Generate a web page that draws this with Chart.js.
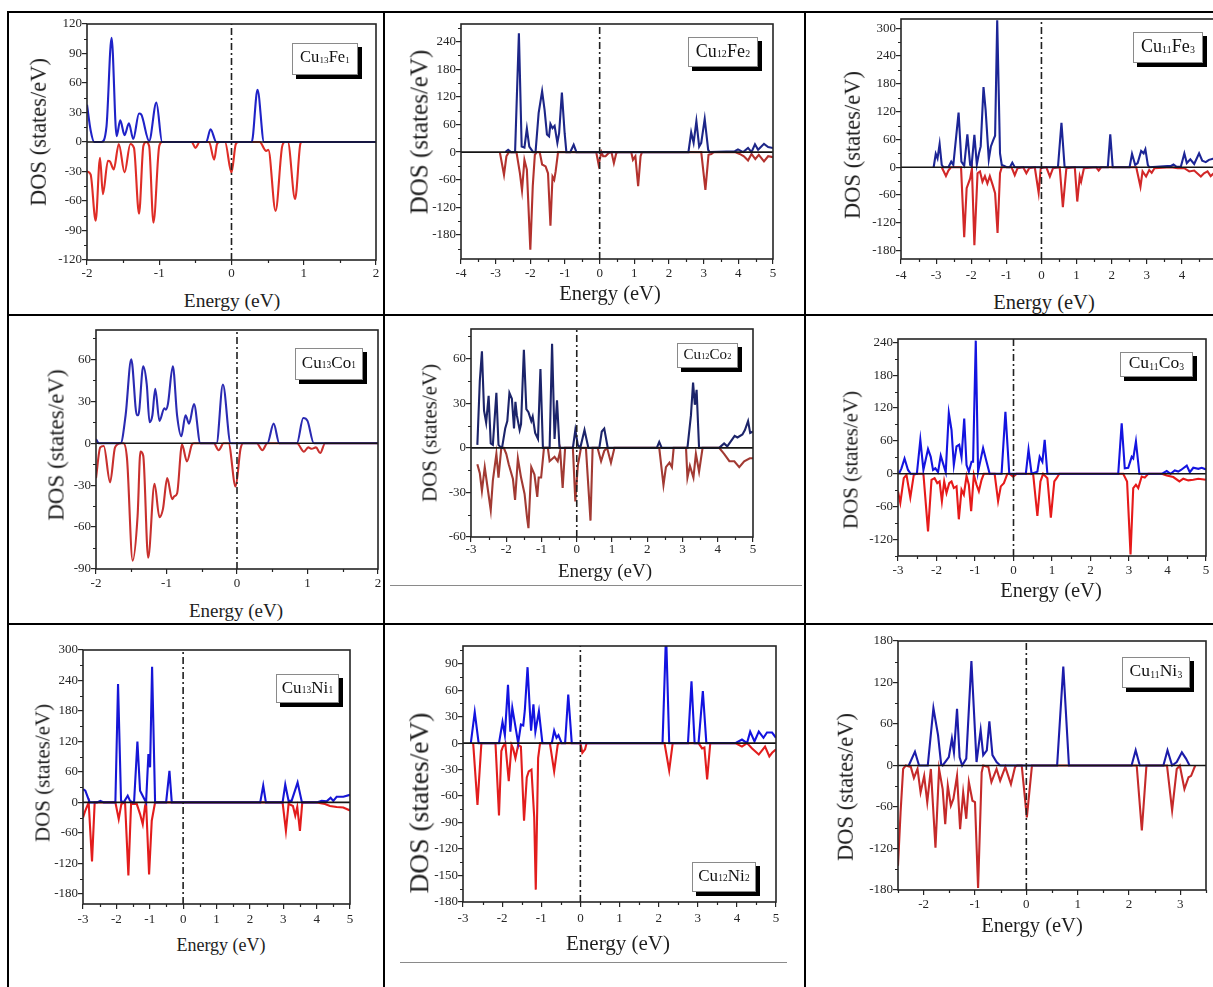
<!DOCTYPE html>
<html><head><meta charset="utf-8">
<script src="https://cdn.jsdelivr.net/npm/chart.js@4.4.1/dist/chart.umd.min.js"></script>
<style>
html,body{margin:0;padding:0;background:#fff;}
body{width:1213px;height:987px;overflow:hidden;position:relative;font-family:"Liberation Serif","Times New Roman",serif;color:#1a1a1a;}
canvas{position:absolute;}
.ln{position:absolute;background:#000;}
.gl{position:absolute;background:#8a8a8a;height:1px;}
.tt{position:absolute;white-space:nowrap;line-height:1;color:#1e1e1e;}
.leg{position:absolute;background:#fff;border:1px solid #8a8a8a;box-shadow:4px 4px 0 #000;display:flex;align-items:center;justify-content:center;color:#111;line-height:1;box-sizing:border-box;padding-bottom:3px;}
.leg sub{font-size:0.55em;vertical-align:baseline;position:relative;top:0.38em;margin:0 0.02em;}
</style>
</head><body>
<script>
// ---------- tick labels ----------
const ticksX_m2_2 = [-2,-1,0,1,2];
const ticksX_m4_5 = [-4,-3,-2,-1,0,1,2,3,4,5];
const ticksX_m3_5 = [-3,-2,-1,0,1,2,3,4,5];
const ticksX_m2_3 = [-2,-1,0,1,2,3];
const ticksY_fe1 = [-120,-90,-60,-30,0,30,60,90,120];
const ticksY_fe2 = [-180,-120,-60,0,60,120,180,240];
const ticksY_fe3 = [-180,-120,-60,0,60,120,180,240,300];
const ticksY_co1 = [-90,-60,-30,0,30,60];
const ticksY_co2 = [-60,-30,0,30,60];
const ticksY_co3 = [-120,-60,0,60,120,180,240];
const ticksY_ni1 = [-180,-120,-60,0,60,120,180,240,300];
const ticksY_ni2 = [-180,-150,-120,-90,-60,-30,0,30,60,90];
const ticksY_ni3 = [-180,-120,-60,0,60,120,180];

// ---------- series: [energy (eV), DOS (states/eV)] ----------
const fe1Up = [[-2,38],[-1.95,12],[-1.9,0],[-1.8,0],[-1.73,16],[-1.66,106],[-1.59,6],[-1.54,22],[-1.48,7],[-1.42,19],[-1.36,3],[-1.28,29],[-1.25,28],[-1.14,1],[-1.04,40],[-0.96,0],[-0.35,0],[-0.29,13],[-0.21,0],[0.28,0],[0.36,53],[0.45,0],[2,0]];
const fe1Dn = [[-2,-30],[-1.95,-33],[-1.88,-80],[-1.82,-16],[-1.78,-53],[-1.71,-19],[-1.68,-20],[-1.63,-28],[-1.56,-2],[-1.48,-31],[-1.4,-2],[-1.35,-6],[-1.28,-73],[-1.22,-4],[-1.18,0],[-1.14,-4],[-1.08,-82],[-1.0,-4],[-0.96,0],[-0.55,0],[-0.5,-6],[-0.44,0],[-0.31,0],[-0.24,-18],[-0.2,-2],[-0.16,0],[-0.09,0],[0,-31],[0.06,-2],[0.1,0],[0.39,0],[0.48,-9],[0.51,-8],[0.61,-70],[0.7,-5],[0.74,0],[0.78,0],[0.88,-58],[0.95,-3],[0.97,0],[2,0]];

const fe2Up = [[-2.72,0],[-2.64,5],[-2.56,0],[-2.44,0],[-2.33,258],[-2.25,12],[-2.17,10],[-2.1,51],[-2.03,12],[-1.92,0],[-1.85,0],[-1.76,85],[-1.66,132],[-1.59,92],[-1.52,38],[-1.46,34],[-1.42,61],[-1.36,52],[-1.3,57],[-1.22,20],[-1.17,41],[-1.09,129],[-1.01,41],[-0.96,0],[-0.85,0],[-0.75,16],[-0.67,0],[2.56,0],[2.64,43],[2.71,20],[2.79,67],[2.87,12],[2.93,20],[3.03,72],[3.13,5],[3.17,0],[3.9,2],[3.99,6],[4.14,0],[4.28,9],[4.38,0],[4.48,17],[4.57,5],[4.74,18],[4.86,11],[5,9]];
const fe2Dn = [[-2.88,0],[-2.76,-49],[-2.69,-9],[-2.62,0],[-2.4,0],[-2.3,-46],[-2.24,-83],[-2.17,-17],[-2.1,-38],[-2.0,-212],[-1.93,-74],[-1.87,-6],[-1.82,0],[-1.73,0],[-1.66,-27],[-1.56,-31],[-1.49,-46],[-1.42,-160],[-1.36,-53],[-1.31,-60],[-1.27,-42],[-1.2,0],[-0.1,0],[-0.03,-27],[0.05,0],[0.1,-9],[0.17,-9],[0.26,-2],[0.34,0],[0.41,-24],[0.48,-2],[0.53,0],[0.91,0],[0.96,-17],[1.03,-9],[1.11,-74],[1.18,-9],[1.22,0],[2.93,0],[3.05,-82],[3.14,-6],[3.22,-4],[3.29,0],[3.9,0],[4.04,-4],[4.16,-9],[4.28,-18],[4.38,-4],[4.49,-15],[4.59,-6],[4.74,-20],[4.86,-9],[5,-11]];

const fe3Up = [[-3.07,0],[-3.01,29],[-2.96,19],[-2.9,50],[-2.84,5],[-2.79,0],[-2.65,0],[-2.57,12],[-2.51,5],[-2.36,118],[-2.28,12],[-2.2,3],[-2.11,71],[-2.03,5],[-1.99,3],[-1.91,70],[-1.84,6],[-1.78,30],[-1.73,45],[-1.65,173],[-1.59,124],[-1.5,17],[-1.44,45],[-1.37,59],[-1.32,68],[-1.26,317],[-1.18,30],[-1.13,5],[-1.06,3],[-0.99,0],[-0.9,0],[-0.83,10],[-0.76,0],[0.47,0],[0.57,96],[0.66,0],[1.89,0],[1.96,71],[2.03,0],[2.51,0],[2.58,29],[2.67,5],[2.74,9],[2.84,35],[2.91,30],[2.96,39],[3.03,5],[3.07,0],[3.69,3],[3.76,6],[3.85,1],[3.97,1],[4.07,30],[4.14,9],[4.24,17],[4.35,7],[4.49,30],[4.58,14],[4.68,11],[4.77,16],[4.91,19],[5,20]];
const fe3Dn = [[-2.84,0],[-2.72,-19],[-2.65,-7],[-2.58,0],[-2.29,0],[-2.2,-151],[-2.13,-45],[-2.03,-24],[-1.98,-3],[-1.91,-168],[-1.82,-13],[-1.75,-9],[-1.68,-31],[-1.61,-19],[-1.54,-35],[-1.47,-19],[-1.39,-38],[-1.32,-56],[-1.25,-142],[-1.18,-13],[-1.13,0],[-0.85,0],[-0.76,-17],[-0.68,-2],[-0.52,0],[-0.43,-13],[-0.35,-2],[-0.19,0],[-0.08,-55],[-0.02,-2],[0.14,0],[0.24,-20],[0.33,-2],[0.52,0],[0.61,-86],[0.71,-2],[0.95,0],[1.02,-74],[1.09,-20],[1.13,-31],[1.21,-2],[1.56,0],[1.63,-7],[1.7,0],[2.7,0],[2.82,-42],[2.88,-9],[2.98,-20],[3.07,-6],[3.14,-12],[3.22,-2],[3.69,0],[3.88,-2],[4.07,-2],[4.21,-9],[4.35,-7],[4.54,-20],[4.63,-13],[4.73,-9],[4.82,-19],[4.91,-13],[5,-15]];

const co1Up = [[-2,3],[-1.96,0],[-1.65,0],[-1.58,20],[-1.5,60],[-1.42,20],[-1.4,20],[-1.33,55],[-1.28,42],[-1.24,15],[-1.2,20],[-1.16,39],[-1.1,16],[-1.03,25],[-1.01,24],[-0.98,28],[-0.91,55],[-0.85,20],[-0.79,5],[-0.73,20],[-0.68,14],[-0.61,28],[-0.52,0],[-0.29,0],[-0.2,42],[-0.09,0],[0.43,0],[0.52,14],[0.6,0],[0.85,0],[0.94,18],[1.0,16],[1.09,0],[2,0]];
const co1Dn = [[-2,-25],[-1.94,-3],[-1.89,-2],[-1.8,-28],[-1.73,-3],[-1.65,0],[-1.61,0],[-1.56,-11],[-1.48,-84],[-1.41,-52],[-1.37,-6],[-1.33,-9],[-1.26,-82],[-1.17,-29],[-1.1,-53],[-1.05,-47],[-0.99,-25],[-0.92,-40],[-0.89,-38],[-0.85,-36],[-0.78,-1],[-0.71,-13],[-0.64,-1],[-0.61,0],[-0.33,0],[-0.26,-5],[-0.19,0],[-0.12,0],[-0.02,-31],[0.05,-4],[0.09,0],[0.28,0],[0.36,-5],[0.43,0],[0.85,0],[0.95,-6],[1.01,-3],[1.06,-4],[1.12,-3],[1.18,-7],[1.25,0],[2,0]];

const co2Up = [[-2.82,2],[-2.75,45],[-2.69,65],[-2.63,25],[-2.57,17],[-2.5,35],[-2.44,3],[-2.38,2],[-2.28,37],[-2.22,2],[-2.14,0],[-2.12,0],[-2.03,13],[-1.97,18],[-1.91,37],[-1.84,33],[-1.78,13],[-1.74,31],[-1.7,22],[-1.62,12],[-1.58,16],[-1.5,66],[-1.43,26],[-1.37,24],[-1.29,18],[-1.25,21],[-1.18,10],[-1.1,6],[-1.03,53],[-0.96,0],[-0.77,0],[-0.7,70],[-0.63,6],[-0.56,32],[-0.49,0],[-0.11,0],[-0.04,12],[0.03,2],[0.1,0],[0.22,12],[0.33,0],[0.64,0],[0.71,11],[0.78,13],[0.88,0],[2.27,0],[2.34,4],[2.41,0],[3.14,0],[3.24,22],[3.3,44],[3.35,29],[3.4,39],[3.47,0],[4.04,0],[4.18,3],[4.27,1],[4.42,6],[4.48,8],[4.56,7],[4.7,9],[4.77,12],[4.86,18],[4.92,10],[5,11]];
const co2Dn = [[-2.82,-11],[-2.75,-17],[-2.69,-29],[-2.61,-13],[-2.54,-25],[-2.44,-42],[-2.38,-22],[-2.28,-4],[-2.22,-20],[-2.14,0],[-2.07,0],[-2.0,-4],[-1.93,-11],[-1.81,-21],[-1.75,-35],[-1.67,-7],[-1.58,-20],[-1.48,-31],[-1.41,-47],[-1.37,-54],[-1.29,-13],[-1.2,-18],[-1.12,-33],[-1.08,-20],[-1.01,-20],[-0.93,0],[-0.82,0],[-0.77,-9],[-0.63,-6],[-0.54,-9],[-0.47,-2],[-0.4,-27],[-0.33,0],[-0.11,0],[-0.04,-36],[0.03,-12],[0.12,0],[0.26,0],[0.39,-49],[0.45,0],[0.59,0],[0.69,-9],[0.78,-2],[0.86,0],[0.97,-10],[1.07,0],[2.34,0],[2.46,-25],[2.53,-13],[2.63,-10],[2.7,-13],[2.75,0],[3.1,0],[3.14,-20],[3.21,-12],[3.31,-20],[3.38,-4],[3.47,-16],[3.57,0],[4.04,0],[4.18,-4],[4.33,-9],[4.47,-9],[4.61,-13],[4.75,-9],[4.91,-7],[5,-7]];

const co3Up = [[-2.97,1],[-2.91,10],[-2.83,28],[-2.74,7],[-2.67,0],[-2.51,0],[-2.42,62],[-2.34,7],[-2.22,45],[-2.15,31],[-2.09,7],[-2.03,10],[-1.96,3],[-1.89,33],[-1.83,19],[-1.76,3],[-1.68,111],[-1.61,80],[-1.55,16],[-1.48,50],[-1.41,53],[-1.35,30],[-1.28,101],[-1.22,16],[-1.16,4],[-1.09,22],[-1.05,22],[-0.98,243],[-0.92,4],[-0.79,47],[-0.7,22],[-0.62,0],[-0.31,0],[-0.21,113],[-0.11,0],[0.32,0],[0.39,44],[0.47,0],[0.62,4],[0.68,31],[0.75,22],[0.81,62],[0.88,0],[2.72,0],[2.81,92],[2.89,10],[2.98,11],[3.07,31],[3.11,28],[3.18,59],[3.27,0],[3.85,0],[3.98,5],[4.08,0],[4.19,6],[4.28,4],[4.35,7],[4.5,15],[4.58,3],[4.67,11],[4.8,9],[4.89,11],[5,8]];
const co3Dn = [[-3,-32],[-2.94,-53],[-2.85,-8],[-2.78,-2],[-2.68,-43],[-2.59,-2],[-2.52,0],[-2.34,0],[-2.22,-105],[-2.13,-11],[-2.05,-8],[-1.98,-17],[-1.92,-14],[-1.86,-50],[-1.8,-14],[-1.74,-35],[-1.67,-17],[-1.61,-14],[-1.55,-26],[-1.48,-23],[-1.42,-83],[-1.35,-29],[-1.29,-38],[-1.22,-4],[-1.16,-20],[-1.1,-68],[-1.03,-2],[-0.96,-20],[-0.9,-32],[-0.83,-11],[-0.77,0],[-0.49,0],[-0.4,-50],[-0.33,-23],[-0.25,-17],[-0.16,0],[-0.1,0],[-0.01,-5],[0.08,0],[0.51,0],[0.62,-77],[0.7,-14],[0.77,0],[0.88,-8],[0.97,-80],[1.06,-14],[1.12,-8],[1.19,0],[2.85,0],[2.95,-14],[3.04,-147],[3.11,-26],[3.18,-20],[3.24,-26],[3.33,-5],[3.41,-7],[3.5,0],[3.85,0],[3.98,-3],[4.15,-6],[4.31,-14],[4.41,-9],[4.54,-12],[4.67,-11],[4.8,-9],[5,-11]];

const ni1Up = [[-3,26],[-2.93,23],[-2.8,0],[-2.58,0],[-2.48,3],[-2.38,0],[-2.03,0],[-1.95,233],[-1.86,3],[-1.78,0],[-1.66,13],[-1.59,3],[-1.51,0],[-1.47,0],[-1.37,120],[-1.29,23],[-1.19,10],[-1.11,0],[-1.04,95],[-0.99,69],[-0.93,267],[-0.84,0],[-0.51,0],[-0.41,62],[-0.34,0],[2.31,0],[2.4,33],[2.48,0],[2.98,0],[3.06,35],[3.16,3],[3.25,3],[3.43,39],[3.56,0],[4.0,0],[4.15,3],[4.3,2],[4.42,9],[4.5,3],[4.6,11],[4.8,11],[5,15]];
const ni1Dn = [[-3,-30],[-2.93,-16],[-2.83,0],[-2.73,-116],[-2.65,0],[-2.03,0],[-1.93,-33],[-1.85,-3],[-1.74,0],[-1.64,-144],[-1.56,-3],[-1.39,-3],[-1.29,-23],[-1.21,-43],[-1.14,-7],[-1.11,0],[-1.02,-142],[-0.94,-36],[-0.84,0],[2.98,0],[3.08,-56],[3.16,-3],[3.29,-7],[3.36,-26],[3.42,-9],[3.5,-56],[3.57,0],[4.0,0],[4.25,-3],[4.4,-7],[4.6,-9],[4.8,-10],[5,-16]];

const ni2Up = [[-2.8,0],[-2.7,35],[-2.6,0],[-2.08,0],[-1.99,24],[-1.93,9],[-1.85,66],[-1.79,13],[-1.74,40],[-1.68,24],[-1.59,0],[-1.52,21],[-1.46,20],[-1.42,37],[-1.35,86],[-1.29,36],[-1.26,14],[-1.2,44],[-1.15,13],[-1.06,36],[-0.97,0],[-0.73,0],[-0.67,14],[-0.61,6],[-0.56,9],[-0.48,0],[-0.39,0],[-0.31,55],[-0.22,0],[2.1,0],[2.19,125],[2.27,0],[2.75,0],[2.84,70],[2.92,0],[3.02,0],[3.13,59],[3.22,0],[3.96,0],[4.13,4],[4.26,0],[4.34,13],[4.45,2],[4.56,13],[4.68,6],[4.77,12],[4.9,12],[5,6]];
const ni2Dn = [[-2.74,0],[-2.63,-70],[-2.53,0],[-2.17,0],[-2.08,-82],[-2.02,-9],[-1.98,-4],[-1.92,0],[-1.83,-43],[-1.76,-2],[-1.72,-6],[-1.66,-17],[-1.59,-2],[-1.52,-4],[-1.44,-88],[-1.37,-39],[-1.32,-32],[-1.25,-30],[-1.18,-84],[-1.14,-166],[-1.08,-17],[-1.03,0],[-0.78,0],[-0.67,-32],[-0.58,-2],[-0.55,0],[0,0],[0.05,-11],[0.12,-7],[0.16,0],[2.15,0],[2.27,-31],[2.36,0],[3.02,0],[3.11,-6],[3.17,-5],[3.24,-41],[3.32,0],[3.96,0],[4.13,-4],[4.26,0],[4.39,-6],[4.56,-13],[4.72,-4],[4.83,-15],[4.9,-11],[5,-7]];

const ni3Up = [[-2.29,0],[-2.17,20],[-2.09,0],[-1.92,0],[-1.81,83],[-1.72,44],[-1.66,2],[-1.63,0],[-1.56,7],[-1.51,12],[-1.45,39],[-1.41,19],[-1.35,82],[-1.3,12],[-1.25,0],[-1.17,10],[-1.07,151],[-0.97,5],[-0.89,51],[-0.84,15],[-0.77,22],[-0.72,64],[-0.66,15],[-0.58,5],[-0.51,0],[0.6,0],[0.72,143],[0.83,0],[2.05,0],[2.13,22],[2.21,0],[2.67,0],[2.75,22],[2.84,0],[2.93,5],[3.03,19],[3.11,10],[3.18,0]];
const ni3Dn = [[-2.5,-145],[-2.45,-68],[-2.4,-5],[-2.35,0],[-2.25,-2],[-2.19,-18],[-2.12,-5],[-2.06,-39],[-1.99,-15],[-1.93,-53],[-1.86,-5],[-1.77,-119],[-1.7,-5],[-1.63,-34],[-1.58,-85],[-1.53,-29],[-1.47,-58],[-1.42,-48],[-1.35,-15],[-1.29,-92],[-1.23,-39],[-1.17,-77],[-1.12,-24],[-1.05,-51],[-1.0,-53],[-0.94,-177],[-0.87,-10],[-0.84,0],[-0.74,-2],[-0.68,-24],[-0.58,-5],[-0.51,-22],[-0.41,-2],[-0.3,-27],[-0.22,-2],[-0.18,0],[-0.09,0],[0.01,-75],[0.11,0],[2.15,0],[2.25,-94],[2.34,0],[2.74,0],[2.84,-65],[2.93,-5],[2.99,0],[3.08,-34],[3.16,-17],[3.21,-15],[3.29,0]];

// ---------- panel layout (positions / styles) ----------
const panels = [
 {up:fe1Up, dn:fe1Dn, label:'Cu<sub>13</sub>Fe<sub>1</sub>', frame:[87,24,376,260], xr:[-2,2], yr:[-120,120], xt:ticksX_m2_2, yt:ticksY_fe1, xm:0.5, ym:15, cu:'#1f22c8', cd:'#df2d26', smooth:true, xTitle:[232,301,19.5], yTitle:[39,132,22.5], leg:[292,43,66,32,16.5], xpad:1},
 {up:fe2Up, dn:fe2Dn, label:'Cu<sub>12</sub>Fe<sub>2</sub>', frame:[461,24,773,259], xr:[-4,5], yr:[-232,278], xt:ticksX_m4_5, yt:ticksY_fe2, xm:0.5, ym:30, cu:'#1d2688', cd:'#b3322e', smooth:false, xTitle:[610,293,20.5], yTitle:[419,132,25], leg:[688,37,70,30,18], xpad:2},
 {up:fe3Up, dn:fe3Dn, label:'Cu<sub>11</sub>Fe<sub>3</sub>', frame:[901,19,1217,259], xr:[-4,5], yr:[-198,320], xt:ticksX_m4_5, yt:ticksY_fe3, xm:0.5, ym:30, cu:'#1c2596', cd:'#d22828', smooth:false, xTitle:[1044,302,20.5], yTitle:[853,145,22.5], leg:[1133,32,70,31,18], xpad:4},
 {up:co1Up, dn:co1Dn, label:'Cu<sub>13</sub>Co<sub>1</sub>', frame:[96,330,378,569], xr:[-2,2], yr:[-90,81], xt:ticksX_m2_2, yt:ticksY_co1, xm:0.5, ym:15, cu:'#2a2ab2', cd:'#c8302e', smooth:true, xTitle:[236,610,19], yTitle:[56,445,23], leg:[295,348,68,32,17], xpad:2},
 {up:co2Up, dn:co2Dn, label:'Cu<sub>12</sub>Co<sub>2</sub>', frame:[471,329,753,537], xr:[-3,5], yr:[-60,80], xt:ticksX_m3_5, yt:ticksY_co2, xm:0.5, ym:15, cu:'#1c246a', cd:'#a23a33', smooth:false, xTitle:[605,570,19], yTitle:[430,433,21], leg:[677,343,61,25,15], xpad:0},
 {up:co3Up, dn:co3Dn, label:'Cu<sub>11</sub>Co<sub>3</sub>', frame:[898,339,1206,556], xr:[-3,5], yr:[-150,246], xt:ticksX_m3_5, yt:ticksY_co3, xm:0.5, ym:30, cu:'#1414e0', cd:'#e61a1a', smooth:false, xTitle:[1051,590,20.5], yTitle:[851,460,21], leg:[1120,352,73,25,17.5], xpad:2},
 {up:ni1Up, dn:ni1Dn, label:'Cu<sub>13</sub>Ni<sub>1</sub>', frame:[83,650,350,904], xr:[-3,5], yr:[-200,300], xt:ticksX_m3_5, yt:ticksY_ni1, xm:0.5, ym:30, cu:'#1616d6', cd:'#e31c1c', smooth:false, xTitle:[221,945,18], yTitle:[43,773,21], leg:[276,674,63,29,17], xpad:3},
 {up:ni2Up, dn:ni2Dn, label:'Cu<sub>12</sub>Ni<sub>2</sub>', frame:[463,646,776,902], xr:[-3,5], yr:[-180,110], xt:ticksX_m3_5, yt:ticksY_ni2, xm:0.5, ym:15, cu:'#1313e0', cd:'#e21d1d', smooth:false, xTitle:[618,943,21], yTitle:[419,803,27.5], leg:[692,862,64,30,17], xpad:4},
 {up:ni3Up, dn:ni3Dn, label:'Cu<sub>11</sub>Ni<sub>3</sub>', frame:[898,641,1206,890], xr:[-2.5,3.5], yr:[-180,180], xt:ticksX_m2_3, yt:ticksY_ni3, xm:0.5, ym:30, cu:'#1c1caa', cd:'#c52a2a', smooth:false, xTitle:[1032,925,20.5], yTitle:[846,787,22.5], leg:[1122,657,68,31,17.5], xpad:2}
];

function minorVals(min, max, step, majors) {
  const out = [];
  const start = Math.ceil(min / step - 1e-9);
  const end = Math.floor(max / step + 1e-9);
  for (let k = start; k <= end; k++) {
    const v = +(k * step).toFixed(6);
    if (!majors.some(m => Math.abs(m - v) < 1e-6)) out.push(v);
  }
  return out;
}

const framePlugin = {
  id: 'frame',
  afterDatasetsDraw(chart) {
    const p = chart.$panel;
    const {ctx, chartArea: a} = chart;
    const x = chart.scales.x, y = chart.scales.y;
    ctx.save();
    ctx.strokeStyle = '#252525';
    ctx.lineWidth = 1.2;
    ctx.beginPath();
    for (const v of minorVals(x.min, x.max, p.xm, p.xt)) {
      const px = Math.round(x.getPixelForValue(v)) + 0.5;
      ctx.moveTo(px, a.bottom); ctx.lineTo(px, a.bottom + 3);
    }
    for (const v of minorVals(y.min, y.max, p.ym, p.yt)) {
      const py = Math.round(y.getPixelForValue(v)) + 0.5;
      ctx.moveTo(a.left, py); ctx.lineTo(a.left - 3, py);
    }
    ctx.stroke();
    ctx.lineWidth = 1.6;
    ctx.strokeRect(a.left, a.top, a.right - a.left, a.bottom - a.top);
    ctx.restore();
  }
};

const body = document.body;
function addDiv(cls, css, html) {
  const d = document.createElement('div');
  d.className = cls;
  Object.assign(d.style, css);
  if (html) d.innerHTML = html;
  body.appendChild(d);
  return d;
}

const PADL = 60, PADT = 12, PADR = 14, PADB = 30;
panels.forEach(p => {
  const [fl, ft, fr, fb] = p.frame;
  const cl = fl - PADL, ct = ft - PADT;
  const w = (fr - fl) + PADL + PADR, h = (fb - ft) + PADT + PADB;
  const c = document.createElement('canvas');
  c.width = w; c.height = h;
  c.style.left = cl + 'px'; c.style.top = ct + 'px';
  c.style.width = w + 'px'; c.style.height = h + 'px';
  body.appendChild(c);
  const tickFont = {family: "'Liberation Serif', 'Times New Roman', serif", size: 13};
  new Chart(c, {
    type: 'line',
    data: {datasets: [
      {data: [[p.xr[0], 0], [p.xr[1], 0]], borderColor: '#151515', borderWidth: 1.6, pointRadius: 0, order: 0},
      {data: [[0, p.yr[0]], [0, p.yr[1]]], borderColor: '#202020', borderWidth: 1.6, borderDash: [7, 3, 2, 3], pointRadius: 0, order: 0},
      {data: p.up, borderColor: p.cu, borderWidth: 2.1, pointRadius: 0, order: 1, tension: 0, cubicInterpolationMode: p.smooth ? 'monotone' : 'default'},
      {data: p.dn, borderColor: p.cd, borderWidth: 2.1, pointRadius: 0, order: 1, tension: 0, cubicInterpolationMode: p.smooth ? 'monotone' : 'default'}
    ]},
    options: {
      responsive: false, animation: false, events: [],
      layout: {padding: {left: 0, top: PADT, right: PADR, bottom: 0}},
      plugins: {legend: {display: false}, tooltip: {enabled: false}},
      scales: {
        x: {
          type: 'linear', min: p.xr[0], max: p.xr[1],
          afterBuildTicks: s => { s.ticks = p.xt.map(v => ({value: v})); },
          afterFit: s => { s.height = PADB; },
          ticks: {font: tickFont, color: '#262626', padding: p.xpad, autoSkip: false, maxRotation: 0, callback: v => String(v)},
          grid: {drawOnChartArea: false, drawTicks: true, tickLength: 5, color: '#252525', lineWidth: 1.2},
          border: {display: false}
        },
        y: {
          type: 'linear', min: p.yr[0], max: p.yr[1],
          afterBuildTicks: s => { s.ticks = p.yt.map(v => ({value: v})); },
          afterFit: s => { s.width = PADL; },
          ticks: {font: tickFont, color: '#262626', padding: 0, autoSkip: false, callback: v => String(v)},
          grid: {drawOnChartArea: false, drawTicks: true, tickLength: 5, color: '#252525', lineWidth: 1.2},
          border: {display: false}
        }
      }
    },
    plugins: [{id: 'panelRef', beforeInit(ch) { ch.$panel = p; }}, framePlugin]
  });
  // axis titles
  addDiv('tt', {left: p.xTitle[0] + 'px', top: p.xTitle[1] + 'px', fontSize: p.xTitle[2] + 'px', transform: 'translate(-50%,-50%)'}, 'Energy (eV)');
  addDiv('tt', {left: p.yTitle[0] + 'px', top: p.yTitle[1] + 'px', fontSize: p.yTitle[2] + 'px', transform: 'translate(-50%,-50%) rotate(-90deg)'}, 'DOS (states/eV)');
  // legend box
  addDiv('leg', {left: p.leg[0] + 'px', top: p.leg[1] + 'px', width: p.leg[2] + 'px', height: p.leg[3] + 'px', fontSize: p.leg[4] + 'px'}, p.label);
});

// table borders
[[7,11,1206,2],[7,314,1206,2],[7,623,1206,2],[7,11,2,976],[383,11,2,976],[804,11,2,976]].forEach(r => {
  addDiv('ln', {left: r[0] + 'px', top: r[1] + 'px', width: r[2] + 'px', height: r[3] + 'px'});
});
addDiv('gl', {left: '390px', top: '585px', width: '412px'});
addDiv('gl', {left: '400px', top: '962px', width: '387px'});
</script>
</body></html>
